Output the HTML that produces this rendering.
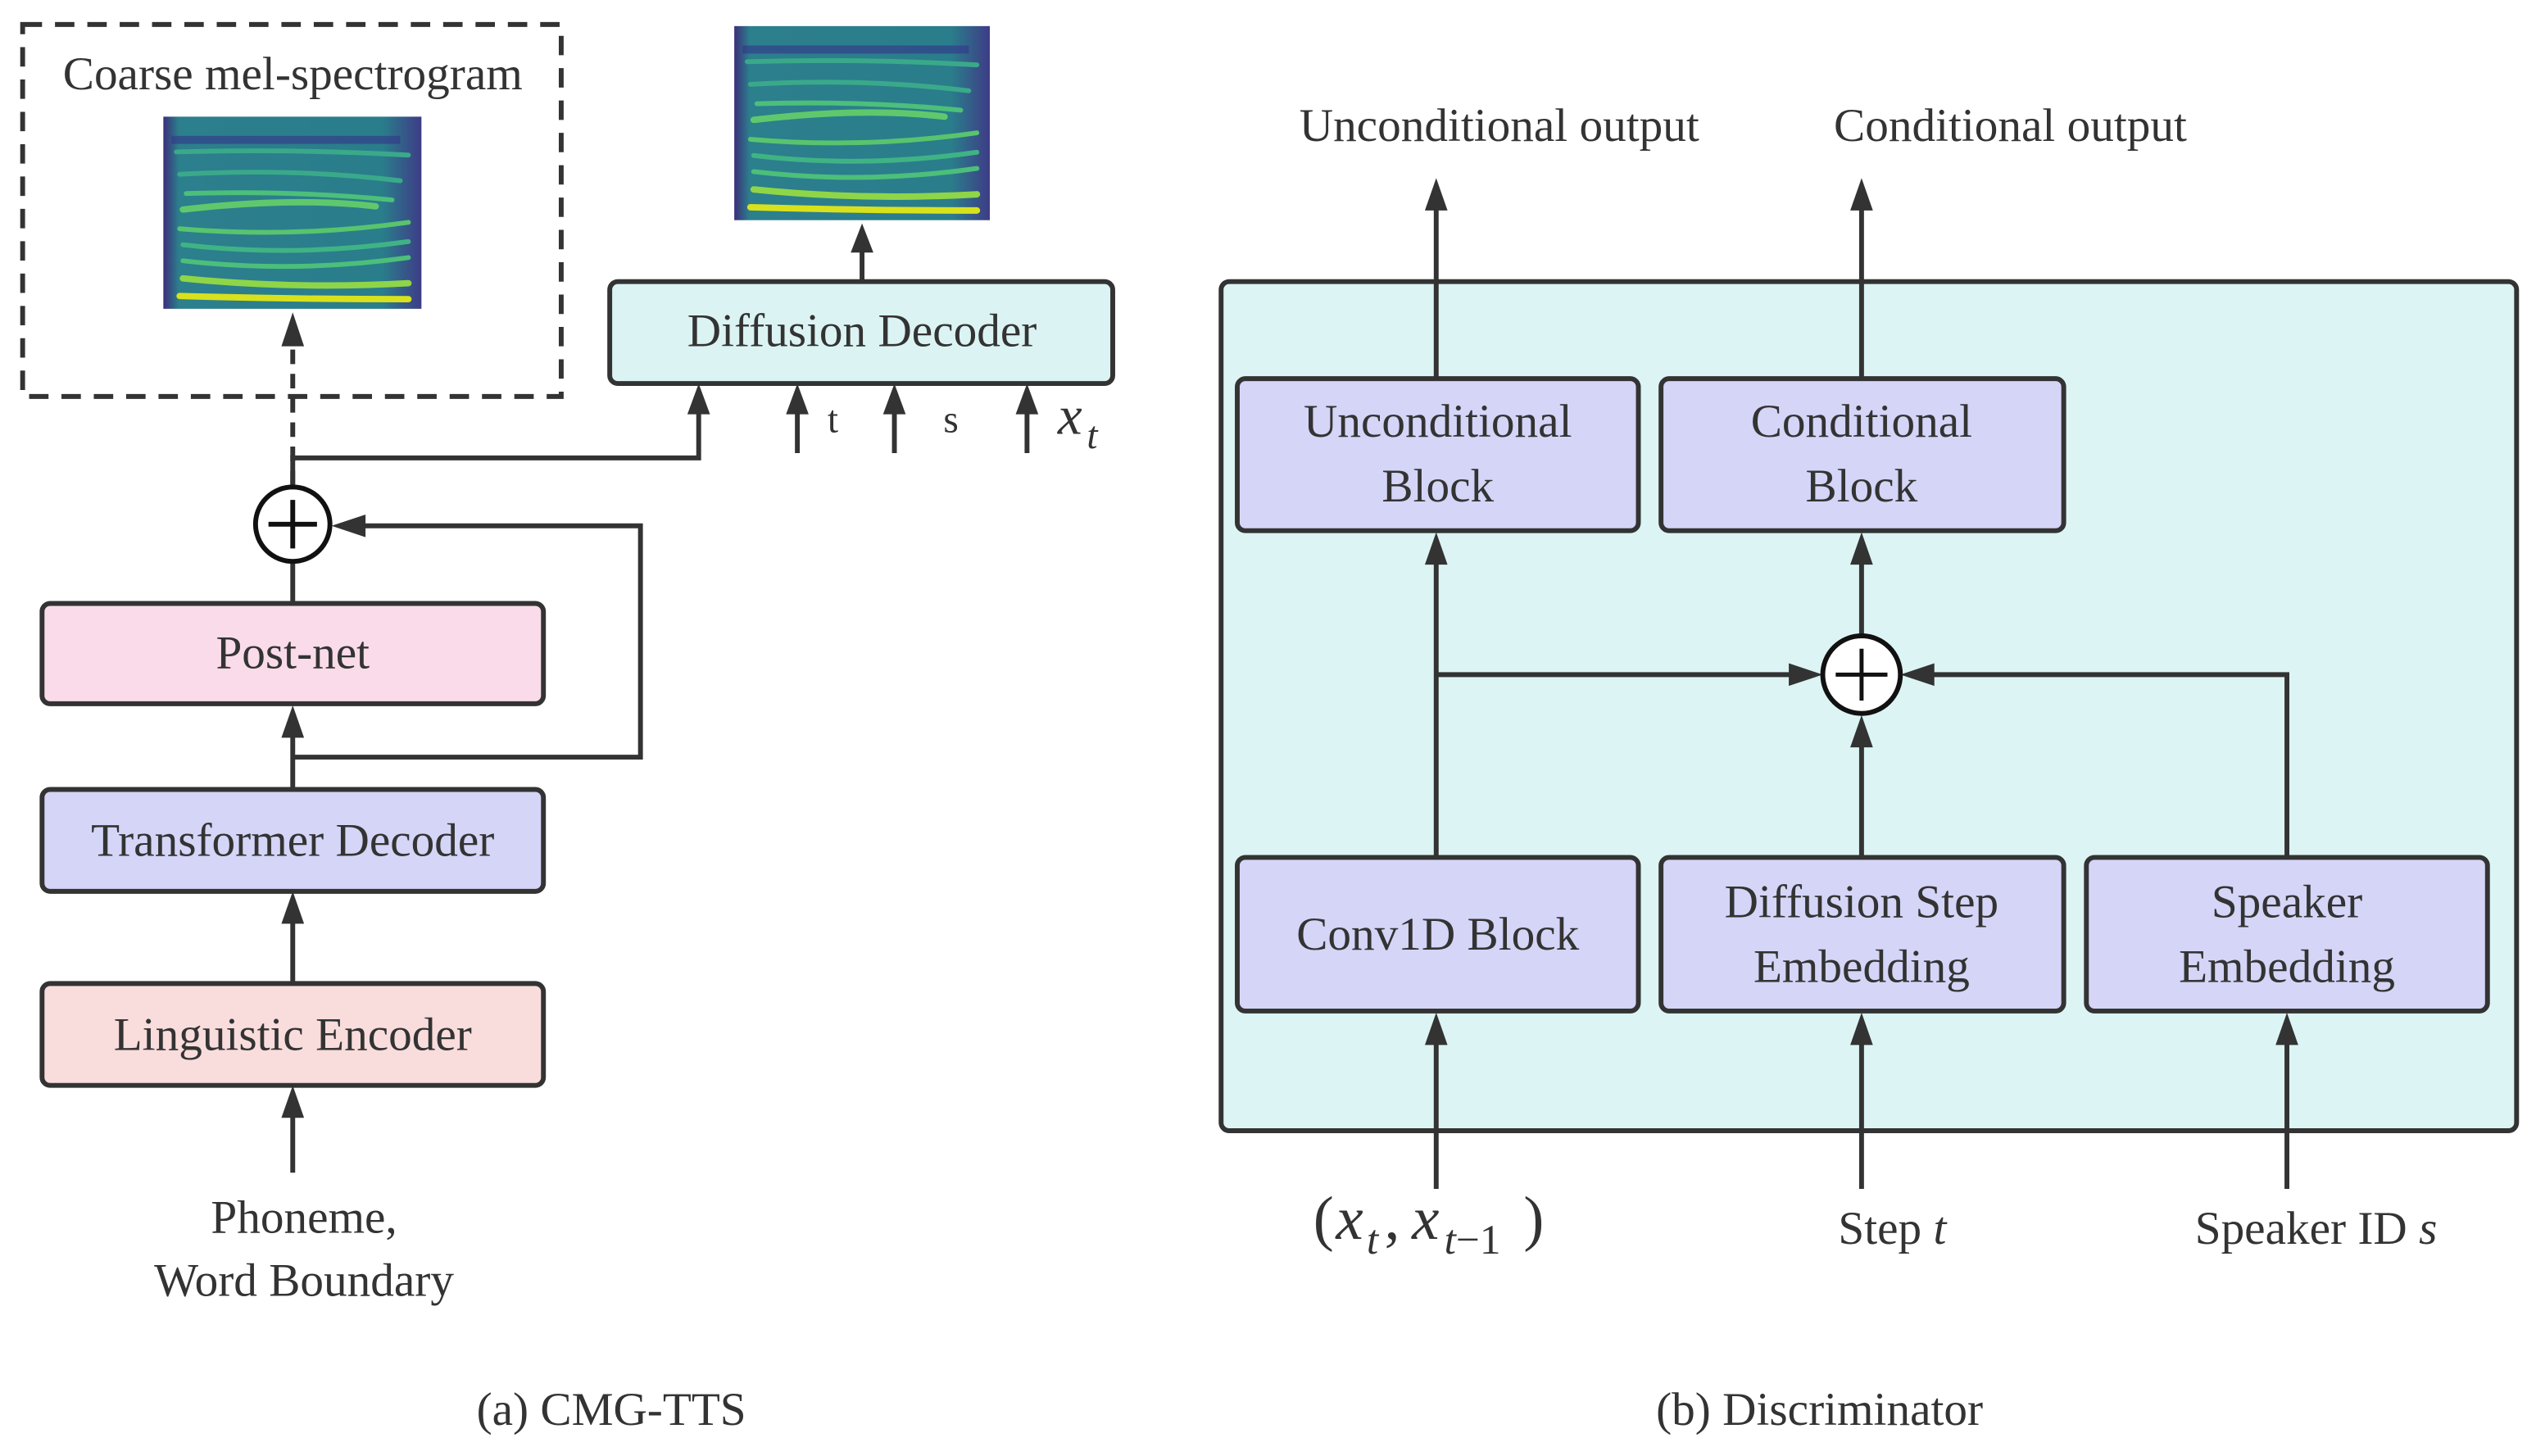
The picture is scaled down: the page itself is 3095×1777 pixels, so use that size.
<!DOCTYPE html>
<html><head><meta charset="utf-8"><style>
html,body{margin:0;padding:0;background:#fff;}
svg{display:block;}
svg text{font-family:"Liberation Serif","DejaVu Serif",serif !important;fill:#333;}
</style></head><body>
<svg width="3095" height="1777" viewBox="0 0 1568 900" xmlns="http://www.w3.org/2000/svg" font-family="Liberation Serif, DejaVu Serif, serif">
<defs>
<linearGradient id="sg" x1="0" y1="0" x2="1" y2="0">
<stop offset="0" stop-color="#3b2f7a"/><stop offset="0.06" stop-color="#2c7f8c"/><stop offset="0.85" stop-color="#2a7d8b"/><stop offset="1" stop-color="#3e3c87"/>
</linearGradient>
<g id="spec">
<rect x="0" y="0" width="158" height="120" fill="url(#sg)"/>
<rect x="5" y="12" width="140" height="5" fill="#33348a" opacity="0.6"/>
<g stroke-linecap="round" fill="none">
<path d="M8 22 Q80 20 150 24" stroke="#3aa98a" stroke-width="3"/>
<path d="M10 36 Q80 32 145 40" stroke="#3aa98a" stroke-width="3"/>
<path d="M14 48 Q80 46 140 52" stroke="#4cbf7a" stroke-width="3"/>
<path d="M12 58 Q80 50 130 56" stroke="#60c86c" stroke-width="4"/>
<path d="M10 70 Q80 76 150 66" stroke="#58c46e" stroke-width="3"/>
<path d="M12 80 Q80 88 150 78" stroke="#3fb384" stroke-width="3"/>
<path d="M12 90 Q80 98 150 88" stroke="#4cbf7a" stroke-width="3"/>
<path d="M12 101 Q80 108 150 104" stroke="#8fd548" stroke-width="4"/>
<path d="M10 112 Q80 114 150 114" stroke="#d8e11c" stroke-width="4"/>
</g>
</g>
</defs>

<!-- LEFT -->
<rect x="14" y="15" width="333" height="230" fill="none" stroke="#333" stroke-width="3" stroke-dasharray="12,8"/>
<text x="181" y="55" font-size="29" text-anchor="middle">Coarse mel-spectrogram</text>
<use href="#spec" transform="translate(101,72) scale(1.01,0.99)"/>
<use href="#spec" transform="translate(454,16)"/>

<g stroke="#333" stroke-width="3" fill="none">
<line x1="181" y1="300" x2="181" y2="210" stroke-dasharray="9,6"/>
<line x1="533" y1="174" x2="533" y2="150"/>
<polyline points="181,300 181,283 432,283 432,250"/>
<line x1="493" y1="280" x2="493" y2="250"/>
<line x1="553" y1="280" x2="553" y2="250"/>
<line x1="635" y1="280" x2="635" y2="250"/>
<line x1="181" y1="373" x2="181" y2="347"/>
<polyline points="181,468 396,468 396,325 220,325"/>
<line x1="181" y1="488" x2="181" y2="450"/>
<line x1="181" y1="608" x2="181" y2="566"/>
<line x1="181" y1="725" x2="181" y2="686"/>
</g>
<g fill="#333">
<polygon points="181,193 174,214 188,214"/>
<polygon points="533,138 526,156 540,156"/>
<polygon points="432,237 425,256 439,256"/>
<polygon points="493,237 486,256 500,256"/>
<polygon points="553,237 546,256 560,256"/>
<polygon points="635,237 628,256 642,256"/>
<polygon points="205,325 226,318 226,332"/>
<polygon points="181,436 174,456 188,456"/>
<polygon points="181,551 174,571 188,571"/>
<polygon points="181,671 174,691 188,691"/>
</g>
<rect x="377" y="174" width="311" height="63" rx="5" fill="#dcf3f3" stroke="#333" stroke-width="3"/>
<text x="533" y="214" font-size="29" text-anchor="middle">Diffusion Decoder</text>
<text x="515" y="267" font-size="24" text-anchor="middle">t</text>
<text x="588" y="267" font-size="24" text-anchor="middle">s</text>
<text x="654" y="268" font-size="34" font-style="italic">x</text>
<text x="672" y="277" font-size="24" font-style="italic">t</text>
<circle cx="181" cy="324" r="23" fill="#fff" stroke="#111" stroke-width="3"/>
<line x1="166" y1="324" x2="196" y2="324" stroke="#111" stroke-width="3"/>
<line x1="181" y1="309" x2="181" y2="339" stroke="#111" stroke-width="3"/>
<rect x="26" y="373" width="310" height="62" rx="5" fill="#f9dbe9" stroke="#333" stroke-width="3"/>
<text x="181" y="413" font-size="29" text-anchor="middle">Post-net</text>
<rect x="26" y="488" width="310" height="63" rx="5" fill="#d4d5f7" stroke="#333" stroke-width="3"/>
<text x="181" y="529" font-size="29" text-anchor="middle">Transformer Decoder</text>
<rect x="26" y="608" width="310" height="63" rx="5" fill="#f9dcdc" stroke="#333" stroke-width="3"/>
<text x="181" y="649" font-size="29" text-anchor="middle">Linguistic Encoder</text>
<text x="188" y="762" font-size="29" text-anchor="middle">Phoneme,</text>
<text x="188" y="801" font-size="29" text-anchor="middle">Word Boundary</text>
<text x="378" y="881" font-size="29" text-anchor="middle">(a) CMG-TTS</text>

<!-- RIGHT -->
<rect x="755" y="174" width="801" height="525" rx="5" fill="#dcf4f4" stroke="#333" stroke-width="3"/>
<text x="927" y="87" font-size="29" text-anchor="middle">Unconditional output</text>
<text x="1243" y="87" font-size="29" text-anchor="middle">Conditional output</text>
<g stroke="#333" stroke-width="3" fill="none">
<line x1="888" y1="234" x2="888" y2="125"/>
<line x1="1151" y1="234" x2="1151" y2="125"/>
<line x1="888" y1="530" x2="888" y2="345"/>
<line x1="888" y1="417" x2="1110" y2="417"/>
<line x1="1151" y1="530" x2="1151" y2="458"/>
<polyline points="1414,530 1414,417 1192,417"/>
<line x1="1151" y1="393" x2="1151" y2="345"/>
<line x1="888" y1="735" x2="888" y2="642"/>
<line x1="1151" y1="735" x2="1151" y2="642"/>
<line x1="1414" y1="735" x2="1414" y2="642"/>
</g>
<g fill="#333">
<polygon points="888,110 881,130 895,130"/>
<polygon points="1151,110 1144,130 1158,130"/>
<polygon points="888,329 881,349 895,349"/>
<polygon points="1151,329 1144,349 1158,349"/>
<polygon points="1127,417 1106,410 1106,424"/>
<polygon points="1175,417 1196,410 1196,424"/>
<polygon points="1151,442 1144,462 1158,462"/>
<polygon points="888,626 881,646 895,646"/>
<polygon points="1151,626 1144,646 1158,646"/>
<polygon points="1414,626 1407,646 1421,646"/>
</g>
<circle cx="1151" cy="417" r="24" fill="#fff" stroke="#111" stroke-width="3"/>
<line x1="1135" y1="417" x2="1167" y2="417" stroke="#111" stroke-width="2.5"/>
<line x1="1151" y1="401" x2="1151" y2="433" stroke="#111" stroke-width="2.5"/>
<g stroke="#333" stroke-width="3" fill="#d4d5f7">
<rect x="765" y="234" width="248" height="94" rx="5"/>
<rect x="1027" y="234" width="249" height="94" rx="5"/>
<rect x="765" y="530" width="248" height="95" rx="5"/>
<rect x="1027" y="530" width="249" height="95" rx="5"/>
<rect x="1290" y="530" width="248" height="95" rx="5"/>
</g>
<g font-size="29" text-anchor="middle">
<text x="889" y="270">Unconditional</text><text x="889" y="310">Block</text>
<text x="1151" y="270">Conditional</text><text x="1151" y="310">Block</text>
<text x="889" y="587">Conv1D Block</text>
<text x="1151" y="567">Diffusion Step</text><text x="1151" y="607">Embedding</text>
<text x="1414" y="567">Speaker</text><text x="1414" y="607">Embedding</text>
</g>
<g font-size="38">
<text x="812" y="766">(</text>
<text x="826" y="766" font-style="italic">x</text>
<text x="845" y="775" font-size="26" font-style="italic">t</text>
<text x="856" y="766">,</text>
<text x="873" y="766" font-style="italic">x</text>
<text x="893" y="775" font-size="26"><tspan font-style="italic">t</tspan>−1</text>
<text x="942" y="766">)</text>
</g>
<text x="1170" y="769" font-size="29" text-anchor="middle">Step <tspan font-style="italic">t</tspan></text>
<text x="1432" y="769" font-size="29" text-anchor="middle">Speaker ID <tspan font-style="italic">s</tspan></text>
<text x="1125" y="881" font-size="29" text-anchor="middle">(b) Discriminator</text>
</svg>
</body></html>
